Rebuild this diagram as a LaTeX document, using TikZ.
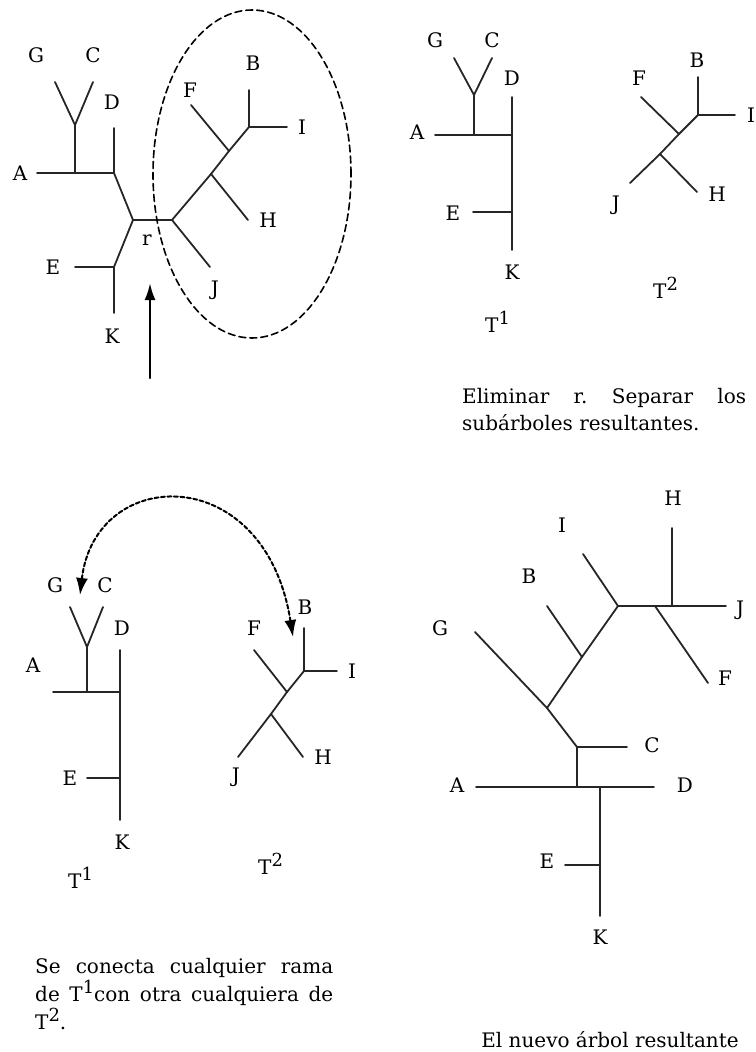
\documentclass[tikz,border=0pt]{standalone}
\usepackage{fontspec}
\setmainfont{DejaVu Serif}
\usetikzlibrary{arrows.meta}
\newcommand\supind[1]{\raisebox{8pt}{\fontsize{18}{18}\selectfont #1}}
\frenchspacing

\begin{document}
\begin{tikzpicture}[x=1pt, y=-1pt, line cap=round, line join=round,
    branch/.style={line width=1.8pt, draw=black!85},
    leaf/.style={inner sep=0pt, font=\fontsize{20}{24}\selectfont},
    tname/.style={inner sep=0pt, anchor=base west, font=\fontsize{20}{24}\selectfont},
    note/.style={inner sep=0pt, anchor=north west, align=justify,
      font=\fontsize{20}{27}\selectfont},
    pointer/.style={line width=2.4pt, -{Latex[length=17pt, width=11pt]}},
    swap/.style={line width=2pt, dash pattern=on 4pt off 2.5pt,
      {Latex[length=17pt, width=12pt]}-{Latex[length=17pt, width=12pt]}}]
  \useasboundingbox (0,0) rectangle (755,1052);
  % (a) arbol original, el subarbol de la derecha va dentro de la elipse
  \begin{scope}
    \coordinate (aGt) at (55,82);   \coordinate (aCt) at (93,82);
    \coordinate (aY) at (75,125);   \coordinate (aAY) at (75,173);
    \coordinate (aAt) at (37,173);  \coordinate (aD) at (114,173);
    \coordinate (aDt) at (114,128); \coordinate (aL) at (133,220);
    \coordinate (aR) at (172,220);  \coordinate (aE) at (114,267);
    \coordinate (aEt) at (75,267);  \coordinate (aKt) at (114,313);
    \coordinate (aX1) at (211,174); \coordinate (aX2) at (229,151);
    \coordinate (aX3) at (249,127); \coordinate (aHt) at (248,220);
    \coordinate (aJt) at (210,267); \coordinate (aFt) at (191,105);
    \coordinate (aBt) at (249,90);  \coordinate (aIt) at (287,127);
    \node[leaf] (aG) at (36,55) {G};
    \node[leaf] (aC) at (93,55) {C};
    \node[leaf] (aDl) at (112,102) {D};
    \node[leaf] (aA) at (20,173) {A};
    \node[leaf] (ar) at (147,240) {r};
    \node[leaf] (aEl) at (53,267) {E};
    \node[leaf] (aK) at (112,336) {K};
    \node[leaf] (aF) at (190,90) {F};
    \node[leaf] (aB) at (253,63) {B};
    \node[leaf] (aI) at (302,127) {I};
    \node[leaf] (aH) at (268,220) {H};
    \node[leaf] (aJ) at (215,290) {J};
    \draw[branch] (aGt) -- (aY) -- (aCt);
    \draw[branch] (aY) -- (aAY);
    \draw[branch] (aAt) -- (aD) -- (aDt);
    \draw[branch] (aD) -- (aL) -- (aR);
    \draw[branch] (aL) -- (aE) -- (aKt);
    \draw[branch] (aEt) -- (aE);
    \draw[branch] (aR) -- (aX1) -- (aX2) -- (aX3) -- (aBt);
    \draw[branch] (aX3) -- (aIt);
    \draw[branch] (aX2) -- (aFt);
    \draw[branch] (aX1) -- (aHt);
    \draw[branch] (aR) -- (aJt);
    \coordinate (aO) at (252,174);
    \draw[line width=1.6pt, dash pattern=on 7pt off 4pt]
      (aO) ellipse [x radius=99pt, y radius=164pt];
    \coordinate (aPtail) at (150,378);
    \coordinate (aPhead) at (150,283);
    \draw[pointer] (aPtail) -- (aPhead);
  \end{scope}
  % (b) se elimina r y quedan T1 y T2
  \begin{scope}
    \coordinate (bGt) at (454,58);  \coordinate (bCt) at (492,58);
    \coordinate (bY) at (474,95);   \coordinate (bAY) at (474,135);
    \coordinate (bAt) at (435,135); \coordinate (bD) at (512,135);
    \coordinate (bDt) at (512,97);  \coordinate (bE) at (512,212);
    \coordinate (bEt) at (473,212); \coordinate (bKt) at (512,250);
    \node[leaf] (bG) at (435,40) {G};
    \node[leaf] (bC) at (492,40) {C};
    \node[leaf] (bA) at (417,132) {A};
    \node[leaf] (bDl) at (512,78) {D};
    \node[leaf] (bEl) at (453,213) {E};
    \node[leaf] (bK) at (512,272) {K};
    \node[tname] (bT1) at (485,332) {T\supind{1}};
    \draw[branch] (bGt) -- (bY) -- (bCt);
    \draw[branch] (bY) -- (bAY);
    \draw[branch] (bAt) -- (bD);
    \draw[branch] (bDt) -- (bKt);
    \draw[branch] (bEt) -- (bE);
    \coordinate (bFt) at (641,97);  \coordinate (bX2) at (679,134);
    \coordinate (bX3) at (698,115); \coordinate (bBt) at (698,77);
    \coordinate (bIt) at (735,115); \coordinate (bX1) at (660,154);
    \coordinate (bJt) at (630,183); \coordinate (bHt) at (697,192);
    \node[leaf] (bF) at (639,78) {F};
    \node[leaf] (bB) at (697,60) {B};
    \node[leaf] (bI) at (751,115) {I};
    \node[leaf] (bJ) at (616,205) {J};
    \node[leaf] (bH) at (717,194) {H};
    \node[tname] (bT2) at (653,298) {T\supind{2}};
    \draw[branch] (bBt) -- (bX3) -- (bIt);
    \draw[branch] (bX3) -- (bX2) -- (bX1) -- (bJt);
    \draw[branch] (bX2) -- (bFt);
    \draw[branch] (bX1) -- (bHt);
    \node[note, text width=284pt] (bNote) at (462,388)
      {Eliminar r. Separar los\linebreak subárboles resultantes.};
  \end{scope}
  % (c) se une una rama de T1 con una de T2
  \begin{scope}
    \coordinate (cGt) at (70,607);  \coordinate (cCt) at (103,607);
    \coordinate (cY) at (87,647);   \coordinate (cAY) at (87,692);
    \coordinate (cAt) at (53,692);  \coordinate (cD) at (120,692);
    \coordinate (cDt) at (120,650); \coordinate (cE) at (120,778);
    \coordinate (cEt) at (87,778);  \coordinate (cKt) at (120,820);
    \node[leaf] (cG) at (55,585) {G};
    \node[leaf] (cC) at (105,585) {C};
    \node[leaf] (cA) at (33,665) {A};
    \node[leaf] (cDl) at (122,628) {D};
    \node[leaf] (cEl) at (70,778) {E};
    \node[leaf] (cK) at (122,842) {K};
    \node[tname] (cT1) at (68,888) {T\supind{1}};
    \draw[branch] (cGt) -- (cY) -- (cCt);
    \draw[branch] (cY) -- (cAY);
    \draw[branch] (cAt) -- (cD);
    \draw[branch] (cDt) -- (cKt);
    \draw[branch] (cEt) -- (cE);
    \coordinate (cFt) at (254,650); \coordinate (cX2) at (287,692);
    \coordinate (cX3) at (304,671); \coordinate (cBt) at (304,628);
    \coordinate (cIt) at (337,671); \coordinate (cX1) at (271,714);
    \coordinate (cJt) at (238,757); \coordinate (cHt) at (303,757);
    \node[leaf] (cF) at (254,628) {F};
    \node[leaf] (cB) at (305,607) {B};
    \node[leaf] (cI) at (352,671) {I};
    \node[leaf] (cJ) at (236,777) {J};
    \node[leaf] (cH) at (323,757) {H};
    \node[tname] (cT2) at (258,874) {T\supind{2}};
    \draw[branch] (cBt) -- (cX3) -- (cIt);
    \draw[branch] (cX3) -- (cX2) -- (cX1) -- (cJt);
    \draw[branch] (cX2) -- (cFt);
    \draw[branch] (cX1) -- (cHt);
    \coordinate (cSwL) at (80,595);
    \coordinate (cSwR) at (293,637);
    \draw[swap] (cSwL) .. controls (95,465) and (265,460) .. (cSwR);
    \node[note, text width=298pt, font=\fontsize{20}{28}\selectfont] (cNote) at (35,958)
      {Se conecta cualquier rama\linebreak de T\supind{1}con otra cualquiera de\linebreak T\supind{2}.};
  \end{scope}
  % (d) el nuevo arbol
  \begin{scope}
    \coordinate (dHt) at (672,528); \coordinate (dX3) at (672,606);
    \coordinate (dJt) at (726,606); \coordinate (dX2) at (618,606);
    \coordinate (dIt) at (583,554); \coordinate (dFb) at (655,606);
    \coordinate (dFt) at (708,683); \coordinate (dX1) at (582,657);
    \coordinate (dBt) at (547,606); \coordinate (dX0) at (547,708);
    \coordinate (dGt) at (475,632); \coordinate (dCY) at (577,747);
    \coordinate (dCt) at (627,747); \coordinate (dAD) at (577,787);
    \coordinate (dAt) at (476,787); \coordinate (dDt) at (654,787);
    \coordinate (dK) at (600,787);  \coordinate (dE) at (600,865);
    \coordinate (dEt) at (565,865); \coordinate (dKt) at (600,916);
    \node[leaf] (dH) at (673,498) {H};
    \node[leaf] (dI) at (562,525) {I};
    \node[leaf] (dB) at (529,576) {B};
    \node[leaf] (dG) at (440,628) {G};
    \node[leaf] (dJ) at (740,610) {J};
    \node[leaf] (dF) at (725,678) {F};
    \node[leaf] (dC) at (652,745) {C};
    \node[leaf] (dA) at (457,785) {A};
    \node[leaf] (dDl) at (685,785) {D};
    \node[leaf] (dEl) at (547,861) {E};
    \node[leaf] (dKl) at (600,937) {K};
    \draw[branch] (dHt) -- (dX3);
    \draw[branch] (dX2) -- (dJt);
    \draw[branch] (dIt) -- (dX2) -- (dX1) -- (dX0) -- (dGt);
    \draw[branch] (dFb) -- (dFt);
    \draw[branch] (dBt) -- (dX1);
    \draw[branch] (dX0) -- (dCY) -- (dCt);
    \draw[branch] (dCY) -- (dAD);
    \draw[branch] (dAt) -- (dDt);
    \draw[branch] (dK) -- (dKt);
    \draw[branch] (dEt) -- (dE);
    \node[leaf, font=\fontsize{20}{28}\selectfont] (dNote) at (610,1040)
      {El nuevo árbol resultante};
  \end{scope}
\end{tikzpicture}
\end{document}
